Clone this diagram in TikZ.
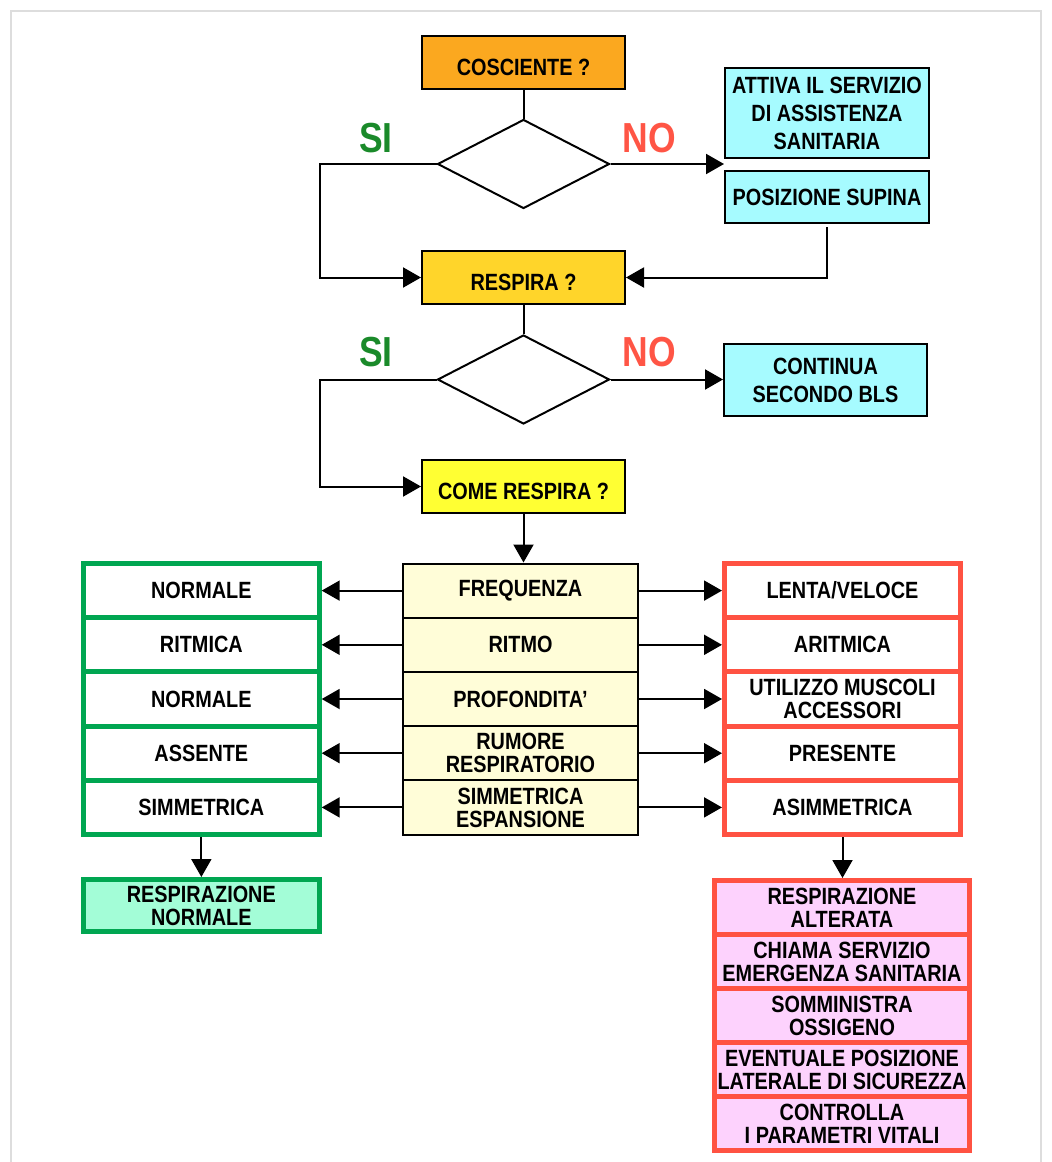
\documentclass[tikz,border=0pt]{standalone}
\usepackage{fontspec}
\newfontfamily\flowfont{Liberation Sans}[FakeStretch=0.845]
\usetikzlibrary{shapes.geometric, arrows.meta}

\definecolor{coscorange}{HTML}{FBA81F}
\definecolor{respgold}{HTML}{FFD52A}
\definecolor{comeyellow}{HTML}{FFFF33}
\definecolor{boxcyan}{HTML}{A6FBFF}
\definecolor{paramyellow}{HTML}{FFFDD8}
\definecolor{okgreen}{HTML}{00A651}
\definecolor{okmint}{HTML}{A3FDD7}
\definecolor{badred}{HTML}{FF5242}
\definecolor{badpink}{HTML}{FDD2FD}
\definecolor{sigreen}{HTML}{1A8A2A}
\definecolor{nored}{HTML}{FF5545}
\definecolor{framegray}{HTML}{DDDDDD}

\begin{document}
\begin{tikzpicture}[x=1pt, y=-1pt,
        every node/.style={text centered, inner sep=0pt,
          font=\flowfont\bfseries\fontsize{23.5}{23}\selectfont,
      },
        box/.style={draw, line width=2pt, minimum width=203pt, minimum height=53pt,
          text height=25pt, text depth=0pt},
        cyanbox/.style={draw, line width=2pt, fill=boxcyan, align=center,
          minimum width=203pt, minimum height=53pt,
          font=\flowfont\bfseries\fontsize{23.5}{28}\selectfont},
        decision/.style={draw, line width=2pt, shape=diamond, fill=white,
          minimum width=172pt, minimum height=89pt},
        param/.style={draw, line width=2pt, fill=paramyellow, align=center,
          minimum width=235pt, minimum height=54.2pt},
        good/.style={draw=okgreen, line width=5pt, fill=white, align=center,
          minimum width=235.7pt, minimum height=54.2pt},
        bad/.style={draw=badred, line width=5pt, fill=white, align=center,
          minimum width=236pt, minimum height=54.2pt},
        action/.style={draw=badred, line width=5pt, fill=badpink, align=center,
          minimum width=255pt, minimum height=54pt},
        yes/.style={text=sigreen, font=\flowfont\bfseries\fontsize{42}{42}\selectfont},
        no/.style={text=nored, font=\flowfont\bfseries\fontsize{42}{42}\selectfont},
        link/.style={line width=2pt},
        arr/.style={line width=2pt, -{Triangle[length=18pt,width=20pt]}},
      ]
      \useasboundingbox (0,0) rectangle (1052,1162);
      \draw[framegray, line width=1.5pt] (11,11) rectangle (1041,1180);

      % first question
      \node[box, fill=coscorange] (cosc) at (523.5,62.5) {COSCIENTE ?};
      \node[decision] (d1) at (523.5,164) {};
      \node[yes] (si1) at (376,138) {SI};
      \node[no] (no1) at (649,138) {NO};
      \node[cyanbox, minimum width=204pt, minimum height=90pt] (attiva) at (827,113)
        {ATTIVA IL SERVIZIO\\DI ASSISTENZA\\SANITARIA};
      \node[cyanbox, minimum width=204pt, minimum height=52pt] (supina) at (827,197) {POSIZIONE SUPINA};

      % second question
      \node[box, fill=respgold] (resp) at (523.5,277.5) {RESPIRA ?};
      \node[decision] (d2) at (523.5,379.5) {};
      \node[yes] (si2) at (376,352) {SI};
      \node[no] (no2) at (649,352) {NO};
      \node[cyanbox, minimum height=72pt] (cont) at (825.5,380) {CONTINUA\\SECONDO BLS};
      \node[box, fill=comeyellow] (come) at (523.5,486.5) {COME RESPIRA ?};

      \draw[link] (cosc.south) -- (d1.north);
      \draw[arr] (d1.west) -- ++(-117,0) |- (resp.west);
      \draw[arr] (d1.east) -- (d1.east -| attiva.west);
      \draw[arr] ([yshift=-3pt]supina.south) |- (resp.east);
      \draw[link] (resp.south) -- (d2.north);
      \draw[arr] (d2.west) -- ++(-117,0) |- (come.west);
      \draw[arr] (d2.east) -- (d2.east -| cont.west);

      % parameters
      \node[param] (m1) at (520.5,590.6) {FREQUENZA};
      \node[param] (m2) at (520.5,644.8) {RITMO};
      \node[param] (m3) at (520.5,699.0) {PROFONDITA’};
      \node[param] (m4) at (520.5,753.2) {RUMORE\\RESPIRATORIO};
      \node[param] (m5) at (520.5,807.4) {SIMMETRICA\\ESPANSIONE};

      \node[good] (l1) at (201.35,590.6) {NORMALE};
      \node[good] (l2) at (201.35,644.8) {RITMICA};
      \node[good] (l3) at (201.35,699.0) {NORMALE};
      \node[good] (l4) at (201.35,753.2) {ASSENTE};
      \node[good] (l5) at (201.35,807.4) {SIMMETRICA};

      \node[bad] (r1) at (842.5,590.6) {LENTA/VELOCE};
      \node[bad] (r2) at (842.5,644.8) {ARITMICA};
      \node[bad] (r3) at (842.5,699.0) {UTILIZZO MUSCOLI\\ACCESSORI};
      \node[bad] (r4) at (842.5,753.2) {PRESENTE};
      \node[bad] (r5) at (842.5,807.4) {ASIMMETRICA};

      \draw[arr] (come.south) -- (come.south |- m1.north);
      \draw[arr] (m1.west) -- (l1.east);
      \draw[arr] (m2.west) -- (l2.east);
      \draw[arr] (m3.west) -- (l3.east);
      \draw[arr] (m4.west) -- (l4.east);
      \draw[arr] (m5.west) -- (l5.east);
      \draw[arr] (m1.east) -- (r1.west);
      \draw[arr] (m2.east) -- (r2.west);
      \draw[arr] (m3.east) -- (r3.west);
      \draw[arr] (m4.east) -- (r4.west);
      \draw[arr] (m5.east) -- (r5.west);

      % outcomes
      \node[good, fill=okmint, minimum height=52pt] (rn) at (201.35,905.5) {RESPIRAZIONE\\NORMALE};
      \node[action] (p1) at (842,907.5) {RESPIRAZIONE\\ALTERATA};
      \node[action] (p2) at (842,961.5) {CHIAMA SERVIZIO\\EMERGENZA SANITARIA};
      \node[action] (p3) at (842,1015.5) {SOMMINISTRA\\OSSIGENO};
      \node[action] (p4) at (842,1069.5) {EVENTUALE POSIZIONE\\LATERALE DI SICUREZZA};
      \node[action] (p5) at (842,1123.5) {CONTROLLA\\I PARAMETRI VITALI};

      \draw[arr] (l5.south) -- (rn.north);
      \draw[arr] (r5.south) -- (r5.south |- p1.north);
    \end{tikzpicture}
\end{document}
